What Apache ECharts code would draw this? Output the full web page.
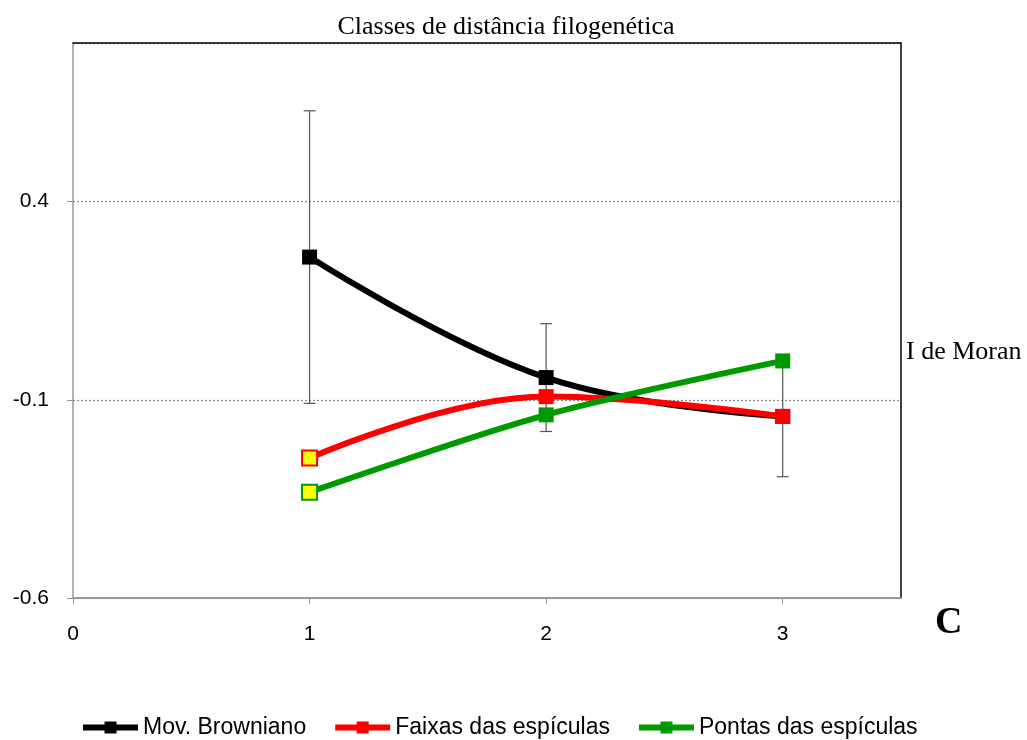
<!DOCTYPE html>
<html>
<head>
<meta charset="utf-8">
<script src="https://cdn.jsdelivr.net/npm/echarts@6/dist/echarts.min.js"></script>
<style>
html,body{margin:0;padding:0;background:#fff;}
#chart{width:1027px;height:740px;}
</style>
</head>
<body>
<div id="chart"></div>
<script>
const xValues = [1, 2, 3];
const browniano = [0.260, -0.044, -0.142];
const brownianoErr = [0.369, 0.136, 0.152];
const faixas = [-0.247, -0.092, -0.142];
const pontas = [-0.333, -0.138, -0.002];
const seriesNames = ['Mov. Browniano', 'Faixas das espículas', 'Pontas das espículas'];
const yTicks = [-0.6, -0.1, 0.4];

const sansFont = '"Liberation Sans", sans-serif';
const serifFont = '"Liberation Serif", "Times New Roman", serif';

function pairs(vals) { return xValues.map((x, i) => [x, vals[i]]); }
function firstYellow(vals, color) {
  return xValues.map((x, i) => i === 0
    ? { value: [x, vals[i]], itemStyle: { color: '#FFFF00', borderColor: color, borderWidth: 2 } }
    : [x, vals[i]]);
}

const chart = echarts.init(document.getElementById('chart'));
chart.setOption({
  animation: false,
  backgroundColor: '#fff',
  title: {
    text: 'Classes de distância filogenética',
    left: 501, top: 9, textAlign: 'center',
    textStyle: { fontFamily: serifFont, fontSize: 26, fontWeight: 'normal', color: '#000' }
  },
  graphic: [
    { type: 'text', left: 906, top: 339, style: { text: 'I de Moran', font: '26px ' + serifFont, fill: '#000' } },
    { type: 'text', left: 935, top: 604, style: { text: 'C', font: 'bold 38px ' + serifFont, fill: '#000' } }
  ],
  legend: {
    top: 711, left: 75,
    itemWidth: 55, itemHeight: 15, itemGap: 26,
    lineStyle: { width: 6 },
    textStyle: { fontFamily: sansFont, fontSize: 23, color: '#000' },
    data: seriesNames
  },
  grid: { left: 73, right: 126, top: 43, bottom: 142 },
  xAxis: [{
    type: 'value', min: 0, max: 3.5, interval: 1,
    axisLine: { show: true, onZero: false, lineStyle: { color: '#999', width: 2 } },
    axisTick: { show: true, length: 6, lineStyle: { color: '#999' } },
    axisLabel: { showMaxLabel: false, margin: 26, fontFamily: sansFont, fontSize: 21, color: '#000', formatter: v => String(v) },
    splitLine: { show: false }
  }, {
    type: 'value', position: 'top', min: 0, max: 3.5,
    axisLine: { show: true, onZero: false, lineStyle: { color: '#000', width: 1.5 } },
    axisTick: { show: false }, axisLabel: { show: false }, splitLine: { show: false }
  }],
  yAxis: [{
    type: 'value', min: -0.6, max: 0.8, interval: 0.5,
    axisLine: { show: true, onZero: false, lineStyle: { color: '#999', width: 1.5 } },
    axisTick: { show: true, length: 6, lineStyle: { color: '#999' } },
    axisLabel: { showMaxLabel: false, margin: 24, fontFamily: sansFont, fontSize: 21, color: '#000',
      formatter: v => { const t = yTicks.find(k => Math.abs(k - v) < 1e-6); return t === undefined ? '' : t.toFixed(1); } },
    splitLine: { show: true, lineStyle: { color: '#888', type: [2, 2], width: 1.2 } }
  }, {
    type: 'value', position: 'right', min: -0.6, max: 0.8,
    axisLine: { show: true, onZero: false, lineStyle: { color: '#000', width: 1.5 } },
    axisTick: { show: false }, axisLabel: { show: false }, splitLine: { show: false }
  }],
  series: [
    {
      type: 'custom', name: 'err', z: 1, silent: true,
      data: xValues.map((x, i) => [x, browniano[i] - brownianoErr[i], browniano[i] + brownianoErr[i]]),
      renderItem: (params, api) => {
        const lo = api.coord([api.value(0), api.value(1)]);
        const hi = api.coord([api.value(0), api.value(2)]);
        const cap = 6;
        const st = { stroke: '#555', lineWidth: 1.2 };
        return { type: 'group', children: [
          { type: 'line', shape: { x1: lo[0], y1: lo[1], x2: hi[0], y2: hi[1] }, style: st },
          { type: 'line', shape: { x1: lo[0] - cap, y1: lo[1], x2: lo[0] + cap, y2: lo[1] }, style: st },
          { type: 'line', shape: { x1: hi[0] - cap, y1: hi[1], x2: hi[0] + cap, y2: hi[1] }, style: st }
        ] };
      }
    },
    {
      type: 'line', name: seriesNames[0], z: 2, smooth: 0.4,
      data: pairs(browniano), symbol: 'rect', symbolSize: 15,
      color: '#000', lineStyle: { width: 6, color: '#000' }, itemStyle: { color: '#000' }
    },
    {
      type: 'line', name: seriesNames[1], z: 3, smooth: 0.4,
      data: firstYellow(faixas, '#FF0000'), symbol: 'rect', symbolSize: 15,
      color: '#FF0000', lineStyle: { width: 6, color: '#FF0000' }, itemStyle: { color: '#FF0000' }
    },
    {
      type: 'line', name: seriesNames[2], z: 4, smooth: 0.3,
      data: firstYellow(pontas, '#009900'), symbol: 'rect', symbolSize: 15,
      color: '#009900', lineStyle: { width: 6, color: '#009900' }, itemStyle: { color: '#009900' }
    }
  ]
});
</script>
</body>
</html>
